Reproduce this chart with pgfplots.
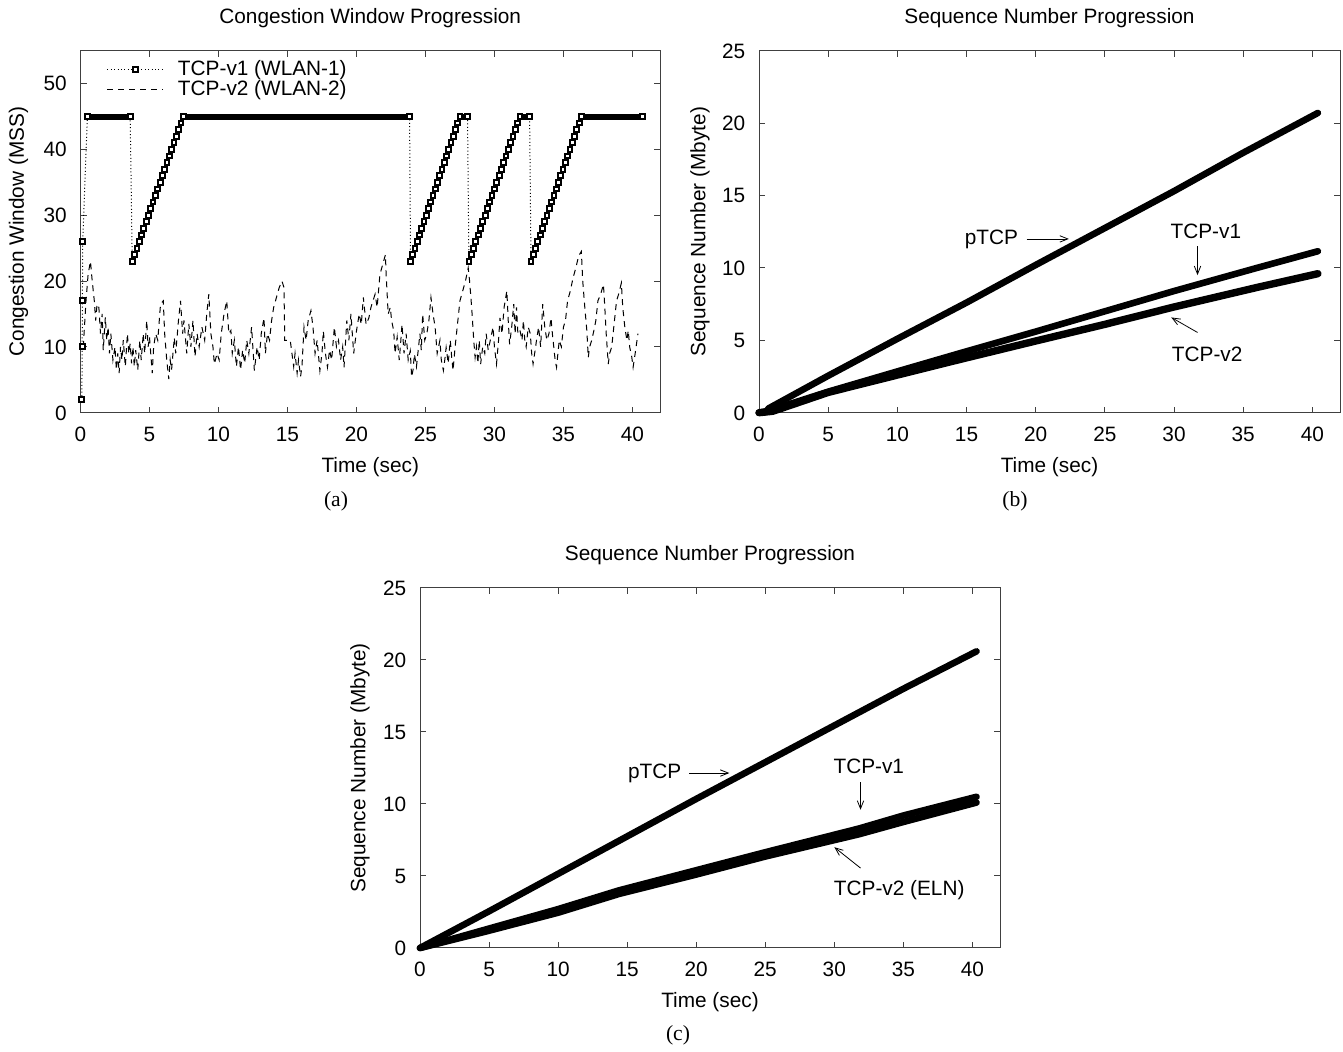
\documentclass[border=0pt]{standalone}
\usepackage{fontspec}
\setmainfont{Liberation Sans}
\newfontfamily\capfont{Liberation Serif}
\usepackage{pgfplots}
\pgfplotsset{compat=1.18}
\usetikzlibrary{arrows.meta}
\newcommand\fs{\fontsize{10.4pt}{12pt}\selectfont}

\pgfplotsset{
  gp/.style={
    scale only axis, anchor=south west, clip=false,
    xmin=0, xmax=42, xtick={0,5,...,40},
    tick align=inside, major tick length=3pt,
    axis line style={line width=0.5pt, black!75},
    every tick/.style={line width=0.5pt, black!75},
    /pgf/number format/assume math mode=true,
    tick label style={font=\fs},
    xticklabel style={anchor=base, inner sep=0pt, yshift=-14.2pt},
    yticklabel style={anchor=base east, inner sep=0pt, xshift=-6.7pt, yshift=-3.7pt},
    label style={font=\fs},
    xlabel style={at={([yshift=-27pt]axis description cs:0.5,0)}, anchor=center},
    every axis title/.style={font=\fs, at={(0.5,1)}, anchor=center, yshift=16.5pt},
  },
  thick line/.style={black, line width=3.3pt, line cap=round, line join=round, no marks},
}
\tikzset{
  note/.style={font=\fs},
  arr/.style={-{Straight Barb[length=4pt,width=3.2pt]}, line width=0.4pt, black},
}

\begin{document}
\begin{tikzpicture}
\useasboundingbox (0,0) rectangle (671.5pt,526pt);

% (a) congestion window
\begin{axis}[gp, at={(40.25pt,319.65pt)}, width=289.75pt, height=181pt,
  ymin=0, ymax=55, ytick={0,10,...,50},
  title={Congestion Window Progression},
  xlabel={Time (sec)}, ylabel={Congestion Window (MSS)},
  ylabel style={at={([xshift=-31pt]axis description cs:0,0.5)}, anchor=center},
  legend style={at={(0.045,0.98)}, anchor=north west, draw=none, fill=none,
    font=\fs, inner sep=0pt, row sep=-1pt, nodes={inner sep=1pt}},
  legend cell align=left,
  legend image code/.code={\draw[mark repeat=2,mark phase=2,#1] plot coordinates {(0pt,0pt)(14pt,0pt)(28pt,0pt)}; \path (34pt,0pt);},
]
\addplot[black, line width=0.5pt, dash pattern=on 0.5pt off 1.2pt,
  mark=square*, mark size=1.2pt, mark options={solid, fill=white, draw=black, line width=1pt}]
  table[row sep=\\]{x y\\
  0.10 2\\ 0.12 10\\ 0.14 17\\ 0.16 26\\ 0.50 45\\ 3.60 45\\
  3.75 23\\ 3.92 24\\ 4.09 25\\ 4.25 26\\ 4.42 27\\ 4.59 28\\ 4.76 29\\ 4.93 30\\
  5.09 31\\ 5.26 32\\ 5.43 33\\ 5.60 34\\ 5.77 35\\ 5.93 36\\ 6.10 37\\ 6.27 38\\
  6.44 39\\ 6.61 40\\ 6.77 41\\ 6.94 42\\ 7.11 43\\ 7.28 44\\ 7.45 45\\ 23.85 45\\
  23.92 23\\ 24.08 24\\ 24.25 25\\ 24.41 26\\ 24.57 27\\ 24.73 28\\ 24.90 29\\ 25.06 30\\
  25.22 31\\ 25.38 32\\ 25.55 33\\ 25.71 34\\ 25.87 35\\ 26.03 36\\ 26.20 37\\ 26.36 38\\
  26.52 39\\ 26.69 40\\ 26.85 41\\ 27.01 42\\ 27.17 43\\ 27.34 44\\ 27.50 45\\ 28.05 45\\
  28.15 23\\ 28.32 24\\ 28.49 25\\ 28.65 26\\ 28.82 27\\ 28.99 28\\ 29.16 29\\ 29.33 30\\
  29.50 31\\ 29.66 32\\ 29.83 33\\ 30.00 34\\ 30.17 35\\ 30.34 36\\ 30.50 37\\ 30.67 38\\
  30.84 39\\ 31.01 40\\ 31.18 41\\ 31.35 42\\ 31.51 43\\ 31.68 44\\ 31.85 45\\ 32.55 45\\
  32.65 23\\ 32.82 24\\ 32.98 25\\ 33.15 26\\ 33.31 27\\ 33.48 28\\ 33.65 29\\ 33.81 30\\
  33.98 31\\ 34.14 32\\ 34.31 33\\ 34.48 34\\ 34.64 35\\ 34.81 36\\ 34.97 37\\ 35.14 38\\
  35.31 39\\ 35.47 40\\ 35.64 41\\ 35.80 42\\ 35.97 43\\ 36.14 44\\ 36.30 45\\ 40.75 45\\
  };
\addlegendentry{TCP-v1 (WLAN-1)}
\addplot[black, line width=0.5pt, dash pattern=on 3pt off 2.5pt, no marks]
  table[row sep=\\]{x y\\
  0.2 10\\ 0.4 17\\ 0.55 21\\ 0.72 23\\ 0.85 20\\ 1.0 17\\ 1.1 14\\ 1.2 16.5\\ 1.33 16\\ 1.45 12\\
  1.57 15\\ 1.65 9.5\\ 1.8 14.5\\ 1.9 11\\ 2.0 13\\ 2.1 9\\ 2.2 12\\ 2.35 8\\ 2.5 10\\ 2.6 6.5\\
  2.7 9\\ 2.8 6\\ 2.9 10\\ 3.0 8\\ 3.1 11\\ 3.25 7\\ 3.4 12\\ 3.5 9\\ 3.6 10.5\\ 3.7 7.5\\
  3.8 10\\ 3.9 7\\ 4.0 9.5\\ 4.15 6.5\\ 4.3 11\\ 4.4 8\\ 4.55 12\\ 4.65 9\\ 4.8 14\\ 4.9 10\\
  5.0 11.5\\ 5.2 6\\ 5.3 10\\ 5.45 12\\ 5.6 11\\ 5.8 16.5\\ 6.0 17\\ 6.1 12\\ 6.25 8\\ 6.4 5.1\\
  6.5 8\\ 6.6 6.5\\ 6.8 11.4\\ 6.9 9\\ 7.1 14\\ 7.25 17\\ 7.4 12\\ 7.5 14\\ 7.7 9\\ 7.85 13.5\\
  8.0 10\\ 8.15 14\\ 8.3 8.5\\ 8.45 12\\ 8.6 10\\ 8.8 13\\ 9.0 11\\ 9.15 15\\ 9.3 18\\ 9.45 12\\
  9.6 10\\ 9.7 7.4\\ 9.9 9\\ 10.05 8\\ 10.2 12\\ 10.4 15\\ 10.6 17\\ 10.75 12\\ 10.9 12.5\\ 11.0 9\\
  11.15 11\\ 11.3 7\\ 11.45 10\\ 11.6 6.5\\ 11.75 9.5\\ 11.9 7.5\\ 12.05 11\\ 12.2 9\\ 12.4 13\\ 12.6 6.4\\
  12.8 10\\ 12.95 8\\ 13.1 12\\ 13.3 14.4\\ 13.4 9\\ 13.55 12\\ 13.7 11\\ 13.85 14\\ 14.0 16\\ 14.2 17.5\\
  14.4 19\\ 14.6 20\\ 14.75 19\\ 14.8 11\\ 15.2 11\\ 15.3 9.4\\ 15.45 7\\ 15.55 9\\ 15.7 6\\ 15.8 8\\
  15.95 5.5\\ 16.05 7\\ 16.2 13\\ 16.35 11\\ 16.5 14\\ 16.7 15.5\\ 16.85 13\\ 17.0 9\\ 17.15 11\\ 17.35 6.4\\
  17.5 9\\ 17.6 12.4\\ 17.75 9\\ 17.9 6.9\\ 18.05 9.5\\ 18.2 8\\ 18.4 13\\ 18.55 10\\ 18.7 11\\ 18.85 8\\
  19.0 10\\ 19.1 6.9\\ 19.3 14\\ 19.45 11\\ 19.6 15\\ 19.8 9\\ 20.0 12.4\\ 20.2 15\\ 20.35 13.4\\ 20.5 17.5\\
  20.7 13.4\\ 20.9 14.4\\ 21.05 16\\ 21.2 17\\ 21.35 18\\ 21.5 16\\ 21.7 21\\ 21.9 22.5\\ 22.1 24\\ 22.15 21\\
  22.3 15\\ 22.45 16\\ 22.55 14\\ 22.7 12.4\\ 22.8 9\\ 22.95 11.5\\ 23.1 8\\ 23.2 10.5\\ 23.3 13.4\\ 23.45 9\\
  23.6 12\\ 23.75 8\\ 23.9 9.4\\ 24.0 5.4\\ 24.1 6.5\\ 24.2 8.9\\ 24.35 7\\ 24.5 10\\ 24.6 12\\ 24.7 9.5\\
  24.8 15\\ 24.95 11\\ 25.1 12\\ 25.25 14\\ 25.4 17.5\\ 25.55 15\\ 25.7 13\\ 25.85 9\\ 26.05 11\\ 26.15 8\\
  26.3 6.4\\ 26.4 8\\ 26.5 9.9\\ 26.65 7.5\\ 26.8 11\\ 26.9 8.5\\ 27.0 6.4\\ 27.15 10\\ 27.3 13\\ 27.5 17\\
  27.7 18.5\\ 27.9 20\\ 28.1 22\\ 28.2 20\\ 28.35 16\\ 28.5 11\\ 28.6 8.4\\ 28.7 10\\ 28.8 7.5\\ 28.9 11\\
  29.0 7.4\\ 29.15 10\\ 29.3 9\\ 29.4 12\\ 29.55 9.5\\ 29.7 11\\ 29.9 13\\ 30.0 10\\ 30.15 7.4\\ 30.3 11\\
  30.4 14.4\\ 30.55 12\\ 30.7 16\\ 30.9 18.5\\ 31.0 14\\ 31.1 10.4\\ 31.25 13\\ 31.4 16.5\\ 31.5 12\\ 31.6 16\\
  31.7 12\\ 31.85 12.5\\ 32.0 11\\ 32.1 14\\ 32.2 11\\ 32.3 10\\ 32.45 13\\ 32.6 12\\ 32.7 9\\ 32.8 7.4\\
  32.95 9.5\\ 33.05 11\\ 33.2 13\\ 33.35 10\\ 33.5 16.5\\ 33.65 13\\ 33.8 11\\ 33.95 12\\ 34.1 14.4\\ 34.2 12\\
  34.3 10\\ 34.4 8\\ 34.5 6.9\\ 34.6 9\\ 34.7 11\\ 34.85 10\\ 35.0 13\\ 35.15 14\\ 35.3 17\\ 35.5 18.5\\
  35.7 20.5\\ 35.9 22\\ 36.1 23.8\\ 36.3 24.5\\ 36.4 20\\ 36.55 16\\ 36.7 12.4\\ 36.8 8.4\\ 36.9 10\\ 37.05 11\\
  37.2 12.4\\ 37.35 14\\ 37.5 17\\ 37.7 18\\ 37.9 19.5\\ 38.0 16\\ 38.1 12\\ 38.25 7.4\\ 38.35 9\\ 38.5 10\\
  38.65 13\\ 38.85 17\\ 39.0 18\\ 39.2 19.7\\ 39.3 16\\ 39.45 13\\ 39.6 11\\ 39.7 12.5\\ 39.8 10\\ 39.95 8.5\\
  40.05 6.9\\ 40.2 9\\ 40.3 10.5\\ 40.4 12\\
  };
\addlegendentry{TCP-v2 (WLAN-2)}
% dense runs of v1 points at the 45 MSS ceiling
\addplot[forget plot, black, line width=3pt, no marks] coordinates {(0.45,45) (3.68,45)};
\addplot[forget plot, black, line width=3pt, no marks] coordinates {(7.40,45) (23.88,45)};
\addplot[forget plot, black, line width=3pt, no marks] coordinates {(27.45,45) (28.10,45)};
\addplot[forget plot, black, line width=3pt, no marks] coordinates {(31.80,45) (32.60,45)};
\addplot[forget plot, black, line width=3pt, no marks] coordinates {(36.25,45) (40.80,45)};
\end{axis}

% (b) sequence numbers
\begin{axis}[gp, at={(379.5pt,319.65pt)}, width=290.5pt, height=181pt,
  ymin=0, ymax=25, ytick={0,5,...,25},
  title={Sequence Number Progression},
  xlabel={Time (sec)}, ylabel={Sequence Number (Mbyte)},
  ylabel style={at={([xshift=-29.5pt]axis description cs:0,0.5)}, anchor=center},
]
\addplot[thick line] coordinates {(0,0) (0.5,0.05) (0.7,0.3) (5,2.55) (10,5.1) (15,7.6) (20,10.2) (25,12.75) (30,15.3) (35,17.95) (40.4,20.7)};
\addplot[thick line] coordinates {(0,0) (0.6,0.1) (5,1.45) (10,2.85) (14.5,4.1) (20,5.6) (25,7.0) (30,8.4) (36,10.0) (40.4,11.15)};
\addplot[thick line, line width=3.7pt] coordinates {(0,0) (1.0,0.1) (5,1.4) (10,2.6) (14.5,3.67) (20,4.95) (25,6.1) (30,7.3) (36,8.65) (40.4,9.6)};
\node[note] at (axis cs:16.8,12.0) {pTCP};
\draw[arr] (axis cs:19.35,12.0) -- (axis cs:22.4,12.0);
\node[note] at (axis cs:32.3,12.5) {TCP-v1};
\draw[arr] (axis cs:31.7,11.5) -- (axis cs:31.7,9.5);
\node[note] at (axis cs:32.4,4.0) {TCP-v2};
\draw[arr] (axis cs:31.7,5.54) -- (axis cs:29.8,6.58);
\end{axis}

% (c) sequence numbers with ELN
\begin{axis}[gp, at={(210pt,52pt)}, width=290pt, height=180pt,
  ymin=0, ymax=25, ytick={0,5,...,25},
  title={Sequence Number Progression},
  xlabel={Time (sec)}, ylabel={Sequence Number (Mbyte)},
  ylabel style={at={([xshift=-30pt]axis description cs:0,0.5)}, anchor=center},
]
\addplot[thick line] coordinates {(0,0) (5,2.55) (10,5.15) (15,7.75) (20,10.35) (25,12.9) (30,15.45) (35,18.0) (40.3,20.6)};
\addplot[thick line] coordinates {(0,0) (5,1.35) (10,2.7) (14.4,4.0) (20,5.4) (25,6.65) (31.8,8.3) (35,9.2) (40.3,10.5)};
\addplot[thick line] coordinates {(0,0) (5,1.2) (10,2.45) (14.4,3.75) (20,5.1) (25,6.35) (31.8,7.9) (35,8.75) (40.3,10.1)};
\node[note] at (axis cs:17.0,12.15) {pTCP};
\draw[arr] (axis cs:19.5,12.15) -- (axis cs:22.4,12.15);
\node[note] at (axis cs:32.5,12.6) {TCP-v1};
\draw[arr] (axis cs:31.9,11.5) -- (axis cs:31.9,9.6);
\node[note] at (axis cs:34.7,4.0) {TCP-v2 (ELN)};
\draw[arr] (axis cs:31.9,5.55) -- (axis cs:30.0,7.0);
\end{axis}

\node[font=\capfont\fontsize{10.8pt}{12pt}\selectfont] at (168pt,275.5pt) {(a)};
\node[font=\capfont\fontsize{10.8pt}{12pt}\selectfont] at (507.5pt,275.5pt) {(b)};
\node[font=\capfont\fontsize{10.8pt}{12pt}\selectfont] at (339pt,8.5pt) {(c)};
\end{tikzpicture}
\end{document}
